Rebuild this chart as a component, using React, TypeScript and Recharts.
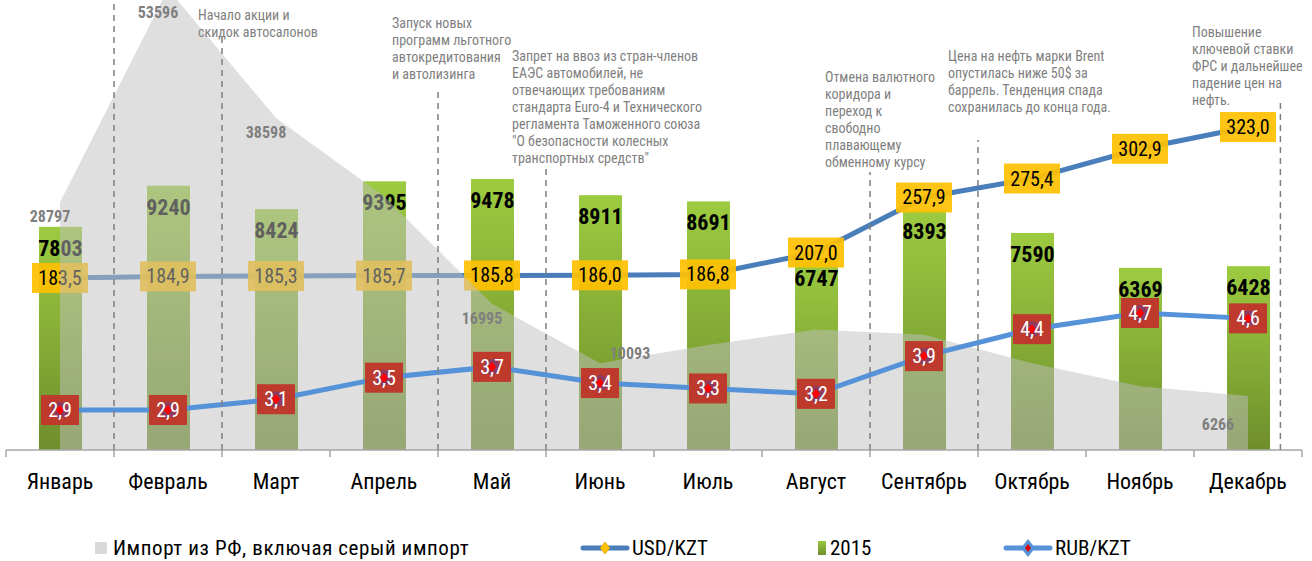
import React from "react";
import {
  ComposedChart,
  Bar,
  Line,
  Area,
  XAxis,
  YAxis,
  ReferenceLine,
  LabelList,
} from "recharts";

const FONT =
  "'Liberation Sans Narrow', 'Arial Narrow', 'Roboto Condensed', 'Liberation Sans', Arial, sans-serif";

const months = [
  "Январь",
  "Февраль",
  "Март",
  "Апрель",
  "Май",
  "Июнь",
  "Июль",
  "Август",
  "Сентябрь",
  "Октябрь",
  "Ноябрь",
  "Декабрь",
];
const sales2015 = [7803, 9240, 8424, 9395, 9478, 8911, 8691, 6747, 8393, 7590, 6369, 6428];
const usdKzt = [183.5, 184.9, 185.3, 185.7, 185.8, 186.0, 186.8, 207.0, 257.9, 275.4, 302.9, 323.0];
const rubKzt = [2.9, 2.9, 3.1, 3.5, 3.7, 3.4, 3.3, 3.2, 3.9, 4.4, 4.7, 4.6];
// import from RF incl. grey import (only some months carry a label)
const importRf = [28797, 53596, 38598, 29500, 16995, 10093, 12200, 14000, 13400, 10100, 7400, 6266];
const importLabelled = ["Январь", "Февраль", "Март", "Май", "Июнь", "Декабрь"];

// event notes: x in month index units, line height above the axis
const notes = [
  { x: 0.5, from: 470, left: 0, top: 0, lines: [] as string[] },
  { x: 1.5, from: 415, left: 198, top: 7, lines: ["Начало акции и", "скидок автосалонов"] },
  {
    x: 3.5,
    from: 360,
    left: 392,
    top: 15,
    lines: ["Запуск новых", "программ льготного", "автокредитования", "и автолизинга"],
  },
  {
    x: 4.5,
    from: 285,
    left: 512,
    top: 48,
    lines: [
      "Запрет на ввоз из стран-членов",
      "ЕАЭС автомобилей, не",
      "отвечающих требованиям",
      "стандарта Euro-4 и Технического",
      "регламента Таможенного союза",
      "\"О безопасности колесных",
      "транспортных средств\"",
    ],
  },
  {
    x: 7.5,
    from: 278,
    left: 825,
    top: 69,
    lines: ["Отмена валютного", "коридора и", "переход к", "свободно", "плавающему", "обменному курсу"],
  },
  {
    x: 8.5,
    from: 310,
    left: 948,
    top: 48,
    lines: [
      "Цена на нефть марки Brent",
      "опустилась ниже 50$ за",
      "баррель. Тенденция спада",
      "сохранилась до конца года.",
    ],
  },
  {
    x: 11.3,
    from: 350,
    left: 1192,
    top: 24,
    lines: ["Повышение", "ключевой ставки", "ФРС и дальнейшее", "падение цен на", "нефть."],
  },
];

const rows = months.map((month, i) => ({
  idx: i,
  month,
  sales: sales2015[i],
  usd: usdKzt[i],
  rub: rubKzt[i],
  imp: importRf[i],
}));

const xTicks = months.flatMap((_, i) => [i - 0.5, i]).concat(months.length - 0.5);

const fmt = (v: number) => v.toFixed(1).replace(".", ",");

function pointOf(props: any) {
  const vb = props.viewBox || {};
  const x = props.x ?? vb.x;
  const y = props.y ?? vb.y;
  return { x: Number(x), y: Number(y) };
}

function MonthTick(props: any) {
  const { x, y, payload } = props;
  const v = payload.value;
  if (Number.isInteger(v)) {
    return (
      <text x={x} y={y} dy={31} textAnchor="middle" fontSize={22} fill="#000" fontFamily={FONT}>
        {months[v]}
      </text>
    );
  }
  return <line x1={x} x2={x} y1={y - 8} y2={y - 1} stroke="#a6a6a6" strokeWidth={1.5} />;
}

function SalesBar(props: any) {
  const { x, y, width, height, payload } = props;
  if (!height) return null;
  return (
    <g>
      <rect x={x} y={y} width={width} height={height} fill="url(#salesFill)" />
      <text
        x={x + width / 2}
        y={y + 29}
        textAnchor="middle"
        fontSize={22}
        fontWeight="bold"
        fill="#000"
        fontFamily={FONT}
      >
        {payload.sales}
      </text>
    </g>
  );
}

function UsdTag(props: any) {
  const { x, y } = pointOf(props);
  if (!isFinite(x) || !isFinite(y)) return null;
  return (
    <g>
      <rect x={x - 28} y={y - 15} width={56} height={30} fill="#ffc000" fillOpacity={0.92} />
      <text x={x} y={y + 7} textAnchor="middle" fontSize={20} fill="#000" fontFamily={FONT}>
        {fmt(Number(props.value))}
      </text>
    </g>
  );
}

function RubTag(props: any) {
  const { cx, cy, index, value } = props;
  return (
    <g key={`rub-${index}`}>
      <rect x={cx - 19} y={cy - 15} width={38} height={30} fill="#bd3a2c" />
      <circle cx={cx} cy={cy} r={8} fill="#7d3d70" fillOpacity={0.75} />
      <path d={`M${cx},${cy - 5}L${cx + 4},${cy}L${cx},${cy + 5}L${cx - 4},${cy}Z`} fill="#ff0000" />
      <text x={cx} y={cy + 7} textAnchor="middle" fontSize={20} fill="#fff" fontFamily={FONT}>
        {fmt(value)}
      </text>
    </g>
  );
}

function ImportTag(props: any) {
  const { x, y } = pointOf(props);
  const i = props.index;
  const month = months[i];
  if (!importLabelled.includes(month) || !isFinite(x) || !isFinite(y)) return null;
  const prev = importRf[i - 1];
  const next = importRf[i + 1];
  // a dip gets its label up and right, the last point down and left
  let tx = x - 10;
  let ty = Math.max(y + 20, 58);
  if (prev !== undefined && next !== undefined && importRf[i] < prev && importRf[i] < next) {
    tx = x + 30;
    ty = y - 4;
  } else if (next === undefined) {
    tx = x - 30;
    ty = y + 34;
  }
  return (
    <text
      x={tx}
      y={ty}
      textAnchor="middle"
      fontSize={16}
      fontWeight="bold"
      fill="#7f7f7f"
      fontFamily={FONT}
    >
      {importRf[i]}
    </text>
  );
}

function LegendRow() {
  const txt: React.CSSProperties = {
    position: "absolute",
    top: 0,
    fontSize: 21,
    lineHeight: "24px",
    color: "#000",
    whiteSpace: "nowrap",
  };
  return (
    <div style={{ position: "absolute", top: 536, left: 0, width: 1312, height: 24, fontFamily: FONT }}>
      <div style={{ position: "absolute", left: 95, top: 6, width: 12, height: 12, background: "#d9d9d9" }} />
      <span style={{ ...txt, left: 113, letterSpacing: 0.6 }}>Импорт из РФ, включая серый импорт</span>

      <svg style={{ position: "absolute", left: 580, top: 0 }} width={50} height={24}>
        <line x1={3} x2={47} y1={12} y2={12} stroke="#4a7ebb" strokeWidth={5} strokeLinecap="round" />
        <path d="M25,6L30,12L25,18L20,12Z" fill="#ffc000" stroke="#c09000" strokeWidth={0.5} />
      </svg>
      <span style={{ ...txt, left: 632 }}>USD/KZT</span>

      <div
        style={{
          position: "absolute",
          left: 818,
          top: 5,
          width: 8,
          height: 14,
          background: "linear-gradient(#9bc83f, #6f8f2e)",
        }}
      />
      <span style={{ ...txt, left: 830 }}>2015</span>

      <svg style={{ position: "absolute", left: 1003, top: 0 }} width={50} height={24}>
        <line x1={3} x2={47} y1={12} y2={12} stroke="#5592d8" strokeWidth={5} strokeLinecap="round" />
        <path d="M25,3L32,12L25,21L18,12Z" fill="#5592d8" />
        <path d="M25,8L28,12L25,16L22,12Z" fill="#e00000" />
      </svg>
      <span style={{ ...txt, left: 1055 }}>RUB/KZT</span>
    </div>
  );
}

export default function App() {
  return (
    <div
      style={{
        position: "fixed",
        left: 0,
        top: 0,
        width: 1312,
        height: 561,
        overflow: "hidden",
        background: "#fff",
        fontFamily: FONT,
      }}
    >
      <div style={{ position: "absolute", left: 0, top: -40 }}>
        <ComposedChart
          width={1312}
          height={601}
          data={rows}
          margin={{ top: 20, right: 10, bottom: 71, left: 6 }}
        >
          <defs>
            <linearGradient id="salesFill" x1="0" y1="0" x2="0" y2="1">
              <stop offset="0%" stopColor="#9ccb40" />
              <stop offset="100%" stopColor="#6e8e2c" />
            </linearGradient>
          </defs>
          <XAxis
            dataKey="idx"
            type="number"
            domain={[-0.5, 11.5]}
            ticks={xTicks}
            interval={0}
            tick={<MonthTick />}
            tickLine={false}
            tickSize={6}
            height={40}
            axisLine={{ stroke: "#a6a6a6", strokeWidth: 1.5 }}
            allowDataOverflow
          />
          <YAxis yAxisId="sales" hide type="number" domain={[0, 16434]} allowDataOverflow />
          <YAxis yAxisId="imp" hide type="number" domain={[0, 54650]} allowDataOverflow />
          <YAxis yAxisId="usd" hide type="number" domain={[24.5, 458.9]} allowDataOverflow />
          <YAxis yAxisId="rub" hide type="number" domain={[2.158, 10.878]} allowDataOverflow />
          <YAxis yAxisId="note" hide type="number" domain={[0, 470]} allowDataOverflow />

          <Bar
            yAxisId="sales"
            dataKey="sales"
            barSize={43}
            shape={<SalesBar />}
            isAnimationActive={false}
            zIndex={100}
          />
          <Line
            yAxisId="usd"
            dataKey="usd"
            type="linear"
            stroke="#4a7ebb"
            strokeWidth={5}
            dot={false}
            activeDot={false}
            isAnimationActive={false}
            zIndex={200}
          >
            <LabelList dataKey="usd" content={<UsdTag />} zIndex={250} />
          </Line>
          <Area
            yAxisId="imp"
            dataKey="imp"
            type="linear"
            fill="#bfbfbf"
            fillOpacity={0.5}
            stroke="none"
            dot={false}
            activeDot={false}
            isAnimationActive={false}
            zIndex={300}
          >
            <LabelList dataKey="imp" content={<ImportTag />} zIndex={350} />
          </Area>
          <Line
            yAxisId="rub"
            dataKey="rub"
            type="linear"
            stroke="#5592d8"
            strokeWidth={5}
            dot={RubTag}
            activeDot={false}
            isAnimationActive={false}
            zIndex={400}
          />
          {notes.map((n) => (
            <ReferenceLine
              key={`note-${n.x}`}
              yAxisId="note"
              segment={[
                { x: n.x, y: 0 },
                { x: n.x, y: n.from },
              ]}
              stroke="#7f7f7f"
              strokeWidth={1.5}
              strokeDasharray="6 5"
              ifOverflow="visible"
              zIndex={500}
            />
          ))}
        </ComposedChart>
      </div>

      {notes
        .filter((n) => n.lines.length > 0)
        .map((n) => (
          <div
            key={`txt-${n.x}`}
            style={{
              position: "absolute",
              left: n.left,
              top: n.top,
              fontSize: 14,
              lineHeight: "17px",
              color: "#7f7f7f",
              whiteSpace: "nowrap",
            }}
          >
            {n.lines.map((l) => (
              <div key={l}>{l}</div>
            ))}
          </div>
        ))}

      <LegendRow />
    </div>
  );
}
